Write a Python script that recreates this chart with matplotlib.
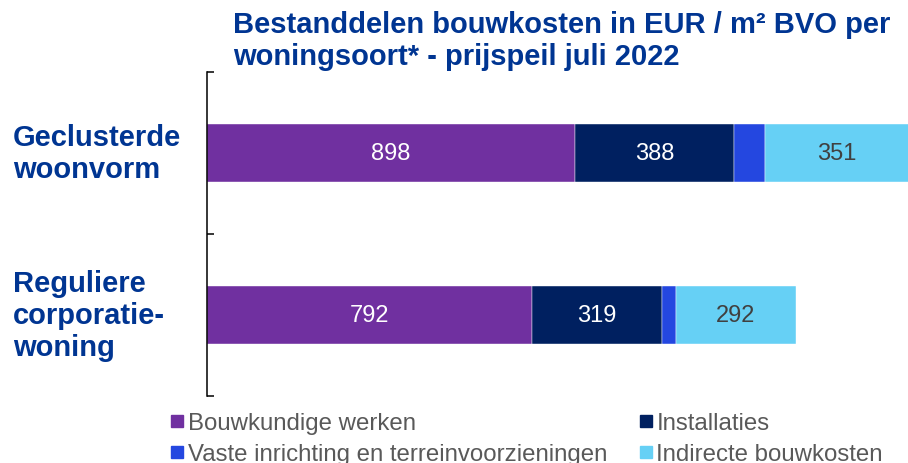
import matplotlib.pyplot as plt
from matplotlib.lines import Line2D
from matplotlib.transforms import blended_transform_factory

plt.rcParams['font.family'] = ['Liberation Sans', 'DejaVu Sans']

# data (EUR / m2 BVO)
categories = ['Reguliere\ncorporatie-\nwoning', 'Geclusterde\nwoonvorm']
components = ['Bouwkundige werken', 'Installaties',
              'Vaste inrichting en terreinvoorzieningen', 'Indirecte bouwkosten']
bouwkundig = [792, 898]
installaties = [319, 388]
vaste_inrichting = [33, 75]
indirect = [292, 351]

colors = ['#7030A0', '#002060', '#2447E0', '#66D0F5']
label_colors = ['white', 'white', None, '#404040']
title_blue = '#003592'

fig = plt.figure(figsize=(9.08, 4.64), dpi=100)
ax = fig.add_axes([207/908, 67/464, 701/908, 324/464])

y = range(len(categories))
series = [bouwkundig, installaties, vaste_inrichting, indirect]
left = [0] * len(categories)
for vals, col, lcol in zip(series, colors, label_colors):
    bars = ax.barh(y, vals, left=left, height=0.352, color=col,
                   edgecolor='white', linewidth=0.3)
    if lcol is not None:
        ax.bar_label(bars, labels=[str(v) for v in vals], label_type='center',
                     color=lcol, fontsize=17)
    left = [l + v for l, v in zip(left, vals)]

ax.set_xlim(0, 1710)
ax.set_ylim(-0.5, 1.5)
ax.set_yticks([-0.5, 0.5, 1.5])
ax.set_yticklabels([])
ax.set_xticks([])
ax.tick_params(axis='y', direction='in', length=5, width=1.1)
for s in ['top', 'right', 'bottom']:
    ax.spines[s].set_visible(False)
ax.spines['left'].set_linewidth(1.1)

# category labels on the left
trans = blended_transform_factory(fig.transFigure, ax.transData)
for yi, cat in zip(y, categories):
    ax.text(13/908, yi, cat, transform=trans, ha='left', va='center',
            fontsize=21, fontweight='bold', color=title_blue, linespacing=1.2)

fig.text(233/908, 1 - 11/464,
         'Bestanddelen bouwkosten in EUR / m² BVO per\nwoningsoort* - prijspeil juli 2022',
         ha='left', va='top', fontsize=21, fontweight='bold', color=title_blue,
         linespacing=1.2)

# legend
order = [0, 2, 1, 3]
handles = [Line2D([], [], marker='s', linestyle='none', markersize=8.4,
                  color=colors[i]) for i in order]
fig.legend(handles, [components[i] for i in order], ncol=2,
           loc='upper left', bbox_to_anchor=(171/908, 1 - 413/464),
           frameon=False, fontsize=17.3, labelcolor='#595959',
           handlelength=0.5, handletextpad=0.2, columnspacing=1.35,
           labelspacing=0.38, borderpad=0, borderaxespad=0)

fig.savefig('out.png', dpi=100)
